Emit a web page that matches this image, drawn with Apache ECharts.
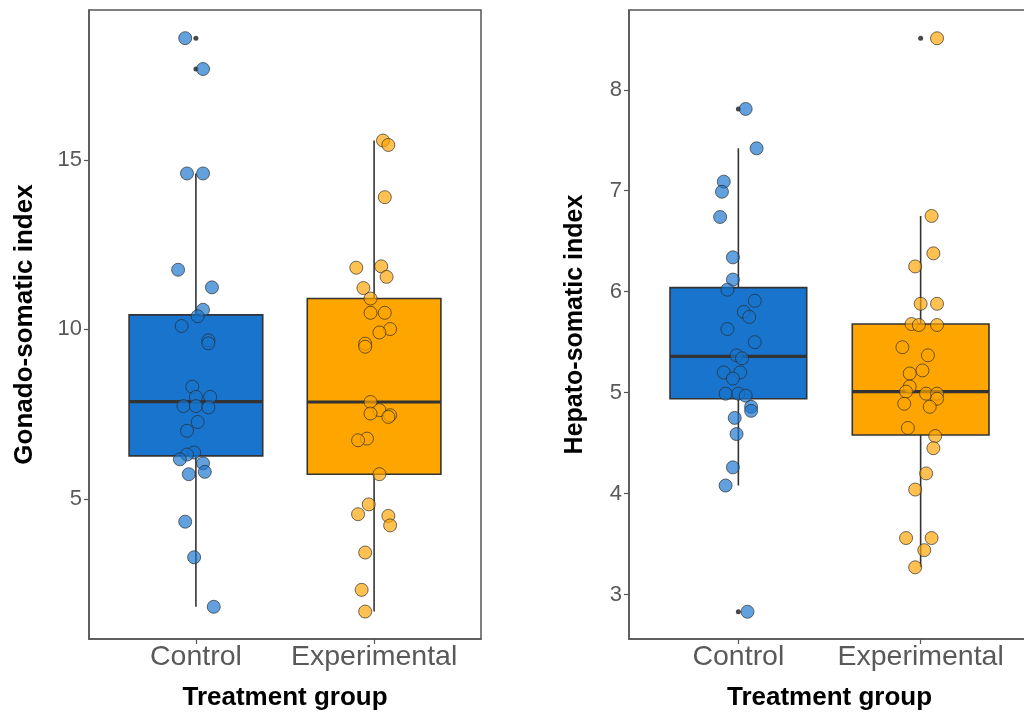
<!DOCTYPE html>
<html>
<head>
<meta charset="utf-8">
<script src="https://cdn.jsdelivr.net/npm/echarts@6/dist/echarts.min.js"></script>
<style>
html,body{margin:0;padding:0;background:#fff;}
#chart{width:1024px;height:720px;}
</style>
</head>
<body>
<div id="chart"></div>
<script>
// ---------- data ----------
const categories = ['Control', 'Experimental'];

// Gonado-somatic index
const gsiControl = [18.59, 17.68, 14.6, 14.6, 11.76, 11.24, 10.58, 10.39, 10.1, 9.68, 9.59, 8.31, 8.01, 8.01, 7.74, 7.74, 7.70, 7.27, 7.01, 6.37, 6.31, 6.17, 6.05, 5.80, 5.73, 4.33, 3.28, 1.82];
const gsiControlJitter = [-0.06, 0.04, -0.05, 0.04, -0.10, 0.09, 0.04, 0.01, -0.08, 0.07, 0.07, -0.02, 0.00, 0.08, -0.07, 0.00, 0.07, 0.01, -0.05, -0.01, -0.05, -0.09, 0.04, 0.05, -0.04, -0.06, -0.01, 0.10];
const gsiExperimental = [15.57, 15.44, 13.9, 11.86, 11.82, 11.55, 11.22, 10.91, 10.49, 10.49, 10.01, 9.91, 9.58, 9.49, 7.86, 7.62, 7.52, 7.47, 7.42, 6.78, 6.73, 5.73, 4.84, 4.55, 4.50, 4.22, 3.42, 2.32, 1.68];
const gsiExperimentalJitter = [0.05, 0.08, 0.06, 0.04, -0.10, 0.07, -0.06, -0.02, -0.02, 0.06, 0.09, 0.03, -0.05, -0.05, -0.02, 0.03, -0.02, 0.09, 0.08, -0.04, -0.09, 0.03, -0.03, -0.09, 0.08, 0.09, -0.05, -0.07, -0.05];
// box stats: [min, Q1, median, Q3, max]
const gsiBoxControl = [1.82, 6.27, 7.87, 10.43, 14.6];
const gsiBoxExperimental = [1.68, 5.73, 7.86, 10.91, 15.57];
const gsiOutliersControl = [18.59, 17.68];
const gsiOutliersExperimental = [];
const gsiTicks = [5, 10, 15];

// Hepato-somatic index
const hsiControl = [7.81, 7.42, 7.09, 6.99, 6.74, 6.34, 6.12, 6.02, 5.91, 5.80, 5.75, 5.63, 5.50, 5.37, 5.34, 5.20, 5.20, 5.14, 4.99, 4.99, 4.97, 4.86, 4.82, 4.75, 4.59, 4.26, 4.08, 2.83];
const hsiControlJitter = [0.04, 0.10, -0.08, -0.09, -0.10, -0.03, -0.03, -0.06, 0.09, 0.03, 0.06, -0.06, 0.09, -0.01, 0.02, -0.08, 0.01, -0.03, -0.07, 0.00, 0.04, 0.07, 0.07, -0.02, -0.01, -0.03, -0.07, 0.05];
const hsiExperimental = [8.51, 6.75, 6.38, 6.25, 5.88, 5.88, 5.68, 5.67, 5.67, 5.45, 5.37, 5.22, 5.19, 5.06, 5.01, 4.99, 4.99, 4.94, 4.89, 4.86, 4.65, 4.57, 4.45, 4.20, 4.04, 3.56, 3.56, 3.44, 3.27];
const hsiExperimentalJitter = [0.09, 0.06, 0.07, -0.03, 0.00, 0.09, -0.05, -0.01, 0.09, -0.10, 0.04, 0.01, -0.06, -0.06, -0.08, 0.03, 0.09, 0.09, -0.09, 0.05, -0.07, 0.08, 0.07, 0.03, -0.03, -0.08, 0.06, 0.02, -0.03];
const hsiBoxControl = [4.08, 4.94, 5.36, 6.04, 7.42];
const hsiBoxExperimental = [3.27, 4.58, 5.01, 5.68, 6.75];
const hsiOutliersControl = [7.81, 2.83];
const hsiOutliersExperimental = [8.51];
const hsiTicks = [3, 4, 5, 6, 7, 8];

// ---------- styling ----------
const FONT = 'Liberation Sans, Arial, sans-serif';
const colors = ['#1874CD', '#FFA500'];
const LINE = '#333333';
const AXIS = '#555555';

const chart = echarts.init(document.getElementById('chart'), null, {renderer: 'canvas'});

function xAxisDef(gridIndex) {
  return {
    type: 'value', gridIndex: gridIndex, min: 0.4, max: 2.6,
    name: 'Treatment group', nameLocation: 'middle', nameGap: 46,
    nameTextStyle: {fontFamily: FONT, fontSize: 26, fontWeight: 'bold', color: '#000'},
    axisLine: {show: true, lineStyle: {color: AXIS, width: 1.5}},
    axisTick: {show: true, length: 5, customValues: [1, 2], lineStyle: {color: AXIS, width: 1.2}},
    axisLabel: {show: true, customValues: [1, 2], margin: 4, fontFamily: FONT, fontSize: 28.5, color: '#595959',
      formatter: function (v) { return categories[Math.round(v) - 1] || ''; }},
    splitLine: {show: false}
  };
}
function yAxisDef(gridIndex, min, max, ticks, name, gap, nameSize) {
  return {
    type: 'value', gridIndex: gridIndex, min: min, max: max,
    name: name, nameLocation: 'middle', nameGap: gap, nameRotate: 90,
    nameTextStyle: {fontFamily: FONT, fontSize: nameSize, fontWeight: 'bold', color: '#000'},
    axisLine: {show: true, lineStyle: {color: AXIS, width: 1.5}},
    axisTick: {show: true, length: 5, customValues: ticks, lineStyle: {color: AXIS, width: 1.2}},
    axisLabel: {show: true, customValues: ticks, margin: 7, fontFamily: FONT, fontSize: 22, color: '#595959'},
    splitLine: {show: false}
  };
}

function boxSeries(xi, yi, boxes) {
  return {
    type: 'custom', xAxisIndex: xi, yAxisIndex: yi, silent: true,
    data: boxes.map(function (b, i) { return [i + 1].concat(b); }),
    encode: {x: 0, y: [1, 2, 3, 4, 5]},
    renderItem: function (params, api) {
      const x = api.value(0);
      const pMin = api.coord([x, api.value(1)]);
      const pQ1 = api.coord([x, api.value(2)]);
      const pMed = api.coord([x, api.value(3)]);
      const pQ3 = api.coord([x, api.value(4)]);
      const pMax = api.coord([x, api.value(5)]);
      const half = api.size([0.75, 0])[0] / 2;
      const fill = colors[params.dataIndex];
      return {
        type: 'group',
        children: [
          {type: 'line', shape: {x1: pMin[0], y1: pMin[1], x2: pMax[0], y2: pMax[1]}, style: {stroke: LINE, lineWidth: 1.6}},
          {type: 'rect', shape: {x: pQ3[0] - half, y: pQ3[1], width: 2 * half, height: pQ1[1] - pQ3[1]}, style: {fill: fill, stroke: LINE, lineWidth: 1.6}},
          {type: 'line', shape: {x1: pMed[0] - half, y1: pMed[1], x2: pMed[0] + half, y2: pMed[1]}, style: {stroke: LINE, lineWidth: 3.2}}
        ]
      };
    }
  };
}
function outlierSeries(xi, yi, ctrl, expt) {
  const data = ctrl.map(function (v) { return [1, v]; }).concat(expt.map(function (v) { return [2, v]; }));
  return {type: 'scatter', xAxisIndex: xi, yAxisIndex: yi, silent: true, symbol: 'circle', symbolSize: 5,
    itemStyle: {color: '#1a1a1a'}, data: data};
}
function jitterSeries(xi, yi, center, vals, jit, color) {
  return {type: 'scatter', xAxisIndex: xi, yAxisIndex: yi, silent: true, symbol: 'circle', symbolSize: 13,
    itemStyle: {color: color, opacity: 0.68, borderColor: '#2a2a2a', borderWidth: 1},
    data: vals.map(function (v, i) { return [center + jit[i], v]; })};
}

const option = {
  backgroundColor: '#ffffff',
  animation: false,
  grid: [
    {left: 89, top: 10, width: 392, height: 629, show: true, borderColor: AXIS, borderWidth: 1.5, backgroundColor: 'transparent', outerBoundsMode: 'none', containLabel: false},
    {left: 629, top: 10, width: 401, height: 629, show: true, borderColor: AXIS, borderWidth: 1.5, backgroundColor: 'transparent', outerBoundsMode: 'none', containLabel: false}
  ],
  xAxis: [xAxisDef(0), xAxisDef(1)],
  yAxis: [
    yAxisDef(0, 0.87, 19.42, gsiTicks, 'Gonado-somatic index', 51, 26),
    yAxisDef(1, 2.56, 8.79, hsiTicks, 'Hepato-somatic index', 41, 25)
  ],
  series: [
    boxSeries(0, 0, [gsiBoxControl, gsiBoxExperimental]),
    outlierSeries(0, 0, gsiOutliersControl, gsiOutliersExperimental),
    jitterSeries(0, 0, 1, gsiControl, gsiControlJitter, colors[0]),
    jitterSeries(0, 0, 2, gsiExperimental, gsiExperimentalJitter, colors[1]),
    boxSeries(1, 1, [hsiBoxControl, hsiBoxExperimental]),
    outlierSeries(1, 1, hsiOutliersControl, hsiOutliersExperimental),
    jitterSeries(1, 1, 1, hsiControl, hsiControlJitter, colors[0]),
    jitterSeries(1, 1, 2, hsiExperimental, hsiExperimentalJitter, colors[1])
  ]
};
chart.setOption(option);
</script>
</body>
</html>
